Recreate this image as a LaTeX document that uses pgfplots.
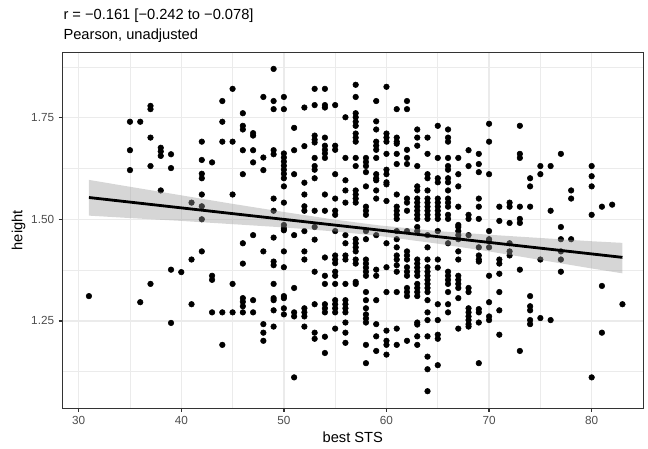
\documentclass[border=0pt]{standalone}
\usepackage{fontspec}
\setmainfont{Liberation Sans}
\usepackage{pgfplots}
\pgfplotsset{compat=1.18}
\usetikzlibrary{calc}
\definecolor{gray92}{HTML}{EBEBEB}
\definecolor{gray20}{HTML}{333333}
\definecolor{gray30}{HTML}{4D4D4D}
\begin{document}
\begin{tikzpicture}
\useasboundingbox (-46.7pt,-30.5pt) rectangle (439.3pt,306.2pt);
\begin{axis}[
  at={(0,0)}, anchor=south west,
  scale only axis, width=435.75pt, height=267pt,
  xmin=28.4, xmax=85.03, ymin=1.035, ymax=1.911,
  xtick={30,40,...,80}, minor xtick={35,45,...,85},
  ytick={1.25,1.5,1.75}, minor ytick={1.125,1.375,1.625,1.875},
  yticklabels={1.25,1.50,1.75},
  grid=both,
  major grid style={draw=gray92, line width=1.07pt},
  minor grid style={draw=gray92, line width=0.53pt},
  axis line style={draw=gray20, line width=1.07pt},
  tick style={draw=gray20, line width=1.07pt},
  tick align=outside, major tick length=2.75pt, minor tick length=0pt,
  tick pos=left,
  /pgf/number format/assume math mode=true,
  ticklabel style={font=\fontsize{8.8}{10}\selectfont, text=gray30},
  xticklabel style={anchor=north, inner sep=0pt, yshift=-3.4pt},
  yticklabel style={anchor=east, inner sep=0pt, xshift=-3.2pt},
  xlabel={best STS},
  xlabel style={at={($(axis description cs:0.5,0)+(0,-21.5pt)$)}, anchor=center, inner sep=0pt, font=\fontsize{11}{13}\selectfont},
  ylabel={height},
  ylabel style={at={($(axis description cs:0,0.5)+(-32.7pt,0)$)}, anchor=center, inner sep=0pt, rotate=0, font=\fontsize{11}{13}\selectfont},
  clip mode=individual,
]
\addplot[only marks, mark=*, mark size=2.1pt, draw=black, fill=black] coordinates {
(31,1.311)
(35,1.740)(35,1.670)(35,1.621)
(36,1.740)(36,1.296)
(37,1.779)(37,1.771)(37,1.701)(37,1.631)(37,1.341)
(38,1.676)(38,1.667)(38,1.656)(38,1.571)
(39,1.660)(39,1.626)(39,1.376)(39,1.245)
(40,1.370)
(41,1.541)(41,1.401)(41,1.291)
(42,1.691)(42,1.646)(42,1.612)(42,1.601)(42,1.561)(42,1.532)(42,1.500)(42,1.421)
(43,1.640)(43,1.361)(43,1.351)(43,1.271)
(44,1.791)(44,1.740)(44,1.691)(44,1.271)(44,1.191)
(45,1.821)(45,1.691)(45,1.561)(45,1.341)(45,1.271)
(46,1.761)(46,1.730)(46,1.721)(46,1.670)(46,1.611)(46,1.441)(46,1.391)(46,1.306)(46,1.297)(46,1.286)(46,1.271)
(47,1.712)(47,1.706)(47,1.670)(47,1.640)(47,1.461)(47,1.301)(47,1.271)
(48,1.801)(48,1.652)(48,1.621)(48,1.421)(48,1.242)(48,1.221)(48,1.201)
(49,1.870)(49,1.791)(49,1.771)(49,1.670)(49,1.660)(49,1.551)(49,1.521)(49,1.455)(49,1.396)(49,1.387)(49,1.341)(49,1.306)(49,1.301)(49,1.276)(49,1.236)
(50,1.801)(50,1.771)(50,1.662)(50,1.652)(50,1.642)(50,1.632)(50,1.622)(50,1.612)(50,1.601)(50,1.581)(50,1.541)(50,1.486)(50,1.478)(50,1.473)(50,1.421)(50,1.382)(50,1.311)(50,1.306)(50,1.281)(50,1.266)
(51,1.725)(51,1.670)(51,1.611)(51,1.461)(51,1.331)(51,1.271)(51,1.261)(51,1.111)
(52,1.775)(52,1.680)(52,1.590)(52,1.561)(52,1.532)(52,1.521)(52,1.471)(52,1.421)(52,1.401)(52,1.281)(52,1.271)(52,1.261)(52,1.236)
(53,1.821)(53,1.781)(53,1.706)(53,1.696)(53,1.689)(53,1.651)(53,1.631)(53,1.622)(53,1.601)(53,1.521)(53,1.481)(53,1.450)(53,1.371)(53,1.291)(53,1.221)(53,1.206)
(54,1.821)(54,1.781)(54,1.775)(54,1.701)(54,1.681)(54,1.671)(54,1.662)(54,1.651)(54,1.561)(54,1.521)(54,1.406)(54,1.361)(54,1.341)(54,1.291)(54,1.281)(54,1.271)(54,1.211)(54,1.171)
(55,1.781)(55,1.681)(55,1.671)(55,1.611)(55,1.551)(55,1.521)(55,1.511)(55,1.471)(55,1.411)(55,1.401)(55,1.392)(55,1.371)(55,1.361)(55,1.341)(55,1.301)(55,1.291)(55,1.281)(55,1.271)(55,1.231)
(56,1.751)(56,1.651)(56,1.596)(56,1.571)(56,1.541)(56,1.461)(56,1.441)(56,1.411)(56,1.401)(56,1.341)(56,1.301)(56,1.291)(56,1.281)(56,1.271)(56,1.246)(56,1.221)(56,1.196)
(57,1.831)(57,1.801)(57,1.761)(57,1.751)(57,1.740)(57,1.730)(57,1.711)(57,1.701)(57,1.691)(57,1.651)(57,1.631)(57,1.571)(57,1.561)(57,1.551)(57,1.541)(57,1.451)(57,1.441)(57,1.431)(57,1.421)(57,1.401)(57,1.391)(57,1.346)(57,1.341)
(58,1.651)(58,1.641)(58,1.631)(58,1.616)(58,1.581)(58,1.531)(58,1.521)(58,1.511)(58,1.471)(58,1.451)(58,1.401)(58,1.391)(58,1.381)(58,1.371)(58,1.361)(58,1.321)(58,1.301)(58,1.281)(58,1.266)(58,1.256)(58,1.246)(58,1.191)(58,1.146)
(59,1.791)(59,1.741)(59,1.721)(59,1.691)(59,1.681)(59,1.671)(59,1.651)(59,1.611)(59,1.601)(59,1.596)(59,1.571)(59,1.551)(59,1.461)(59,1.376)(59,1.361)(59,1.301)(59,1.242)(59,1.212)(59,1.176)
(60,1.826)(60,1.711)(60,1.701)(60,1.691)(60,1.661)(60,1.622)(60,1.611)(60,1.591)(60,1.586)(60,1.545)(60,1.441)(60,1.382)(60,1.321)(60,1.226)(60,1.201)(60,1.191)(60,1.167)
(61,1.771)(61,1.701)(61,1.691)(61,1.686)(61,1.661)(61,1.636)(61,1.561)(61,1.531)(61,1.521)(61,1.511)(61,1.501)(61,1.471)(61,1.451)(61,1.431)(61,1.411)(61,1.401)(61,1.387)(61,1.371)(61,1.321)(61,1.231)(61,1.191)
(62,1.791)(62,1.771)(62,1.671)(62,1.651)(62,1.636)(62,1.551)(62,1.541)(62,1.521)(62,1.471)(62,1.421)(62,1.411)(62,1.401)(62,1.382)(62,1.371)(62,1.361)(62,1.331)(62,1.321)(62,1.311)(62,1.201)
(63,1.721)(63,1.701)(63,1.681)(63,1.631)(63,1.581)(63,1.571)(63,1.551)(63,1.541)(63,1.531)(63,1.521)(63,1.511)(63,1.501)(63,1.481)(63,1.471)(63,1.401)(63,1.391)(63,1.381)(63,1.371)(63,1.361)(63,1.341)(63,1.331)(63,1.321)(63,1.311)(63,1.246)(63,1.241)(63,1.212)(63,1.191)
(64,1.701)(64,1.661)(64,1.611)(64,1.601)(64,1.571)(64,1.551)(64,1.541)(64,1.531)(64,1.521)(64,1.511)(64,1.501)(64,1.461)(64,1.431)(64,1.401)(64,1.382)(64,1.371)(64,1.361)(64,1.351)(64,1.341)(64,1.331)(64,1.321)(64,1.301)(64,1.271)(64,1.252)(64,1.212)(64,1.162)(64,1.131)(64,1.077)
(65,1.730)(65,1.651)(65,1.601)(65,1.591)(65,1.551)(65,1.541)(65,1.531)(65,1.521)(65,1.511)(65,1.501)(65,1.471)(65,1.401)(65,1.381)(65,1.291)(65,1.252)(65,1.216)(65,1.206)(65,1.141)
(66,1.721)(66,1.701)(66,1.691)(66,1.651)(66,1.631)(66,1.622)(66,1.601)(66,1.591)(66,1.571)(66,1.551)(66,1.541)(66,1.531)(66,1.511)(66,1.501)(66,1.441)(66,1.371)(66,1.361)(66,1.351)(66,1.341)(66,1.321)(66,1.291)(66,1.271)
(67,1.651)(67,1.611)(67,1.581)(67,1.531)(67,1.486)(67,1.481)(67,1.471)(67,1.461)(67,1.451)(67,1.421)(67,1.401)(67,1.361)(67,1.351)(67,1.341)(67,1.331)(67,1.306)(67,1.231)
(68,1.670)(68,1.631)(68,1.511)(68,1.501)(68,1.461)(68,1.331)(68,1.321)(68,1.281)(68,1.271)(68,1.261)(68,1.252)(68,1.242)(68,1.236)
(69,1.661)(69,1.636)(69,1.616)(69,1.551)(69,1.531)(69,1.501)(69,1.431)(69,1.411)(69,1.401)(69,1.396)(69,1.279)(69,1.271)(69,1.246)(69,1.146)
(70,1.735)(70,1.691)(70,1.611)(70,1.471)(70,1.451)(70,1.446)(70,1.431)(70,1.361)(70,1.296)(70,1.261)(70,1.252)
(71,1.531)(71,1.496)(71,1.401)(71,1.391)(71,1.366)(71,1.321)(71,1.276)(71,1.216)
(72,1.541)(72,1.531)(72,1.491)(72,1.441)(72,1.421)(72,1.411)
(73,1.730)(73,1.661)(73,1.651)(73,1.531)(73,1.501)(73,1.491)(73,1.376)(73,1.176)
(74,1.601)(74,1.581)(74,1.531)(74,1.311)(74,1.286)(74,1.276)(74,1.252)(74,1.242)
(75,1.631)(75,1.611)(75,1.401)(75,1.257)
(76,1.631)(76,1.521)(76,1.252)
(77,1.661)(77,1.481)(77,1.451)(77,1.421)(77,1.401)(77,1.371)
(78,1.571)(78,1.551)(78,1.451)
(80,1.631)(80,1.606)(80,1.581)(80,1.511)(80,1.111)
(81,1.531)(81,1.336)(81,1.221)
(82,1.536)
(83,1.291)
};
% confidence band
\addplot[draw=none, fill=black!40, fill opacity=0.4] coordinates {
(31,1.597)(35,1.580)(40,1.559)(45,1.538)(50,1.518)(55,1.499)(59.3,1.485)(65,1.471)(70,1.462)(75,1.454)(80,1.446)(83,1.442)
(83,1.367)(80,1.379)(75,1.400)(70,1.421)(65,1.440)(59.3,1.459)(55,1.470)(50,1.480)(45,1.488)(40,1.496)(35,1.503)(31,1.509)
} -- cycle;
% regression line
\addplot[black, line width=2.1pt] coordinates {(31,1.5536)(83,1.4063)};
\end{axis}
\node[anchor=base west, inner sep=0pt, font=\fontsize{11}{13}\selectfont] at (0.75pt,291.2pt) {r = −0.161 [−0.242 to −0.078]};
\node[anchor=base west, inner sep=0pt, font=\fontsize{11}{13}\selectfont] at (0.75pt,276.2pt) {Pearson, unadjusted};
\end{tikzpicture}
\end{document}
